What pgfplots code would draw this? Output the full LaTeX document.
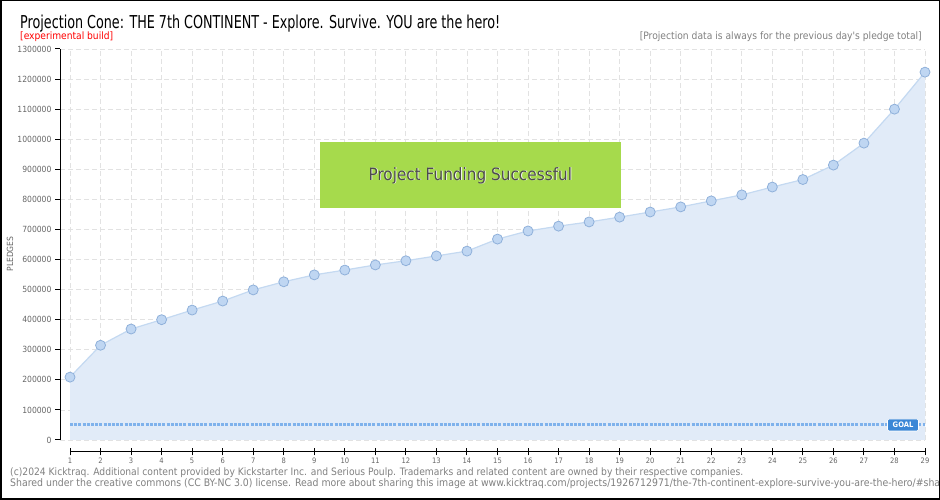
\documentclass[border=0pt]{standalone}
\usepackage{pgfplots}
\pgfplotsset{compat=1.18}
\usepackage{fontspec}
\setmainfont{DejaVu Sans}
\newfontfamily\condfont{DejaVu Sans Condensed}

\definecolor{areafill}{HTML}{E1EBF8}
\definecolor{lineblue}{HTML}{C4D9F1}
\definecolor{markfill}{HTML}{BFD6F2}
\definecolor{markedge}{HTML}{8FB0DA}
\definecolor{goalblue}{HTML}{7FB2EC}
\definecolor{goalbox}{HTML}{3B87D6}
\definecolor{okgreen}{HTML}{A6DA4C}
\definecolor{gridgray}{HTML}{E2E2E2}
\definecolor{ticktext}{HTML}{666666}

\pgfplotstableread{
day pledges
1 209000
2 315000
3 369000
4 400000
5 432000
6 462000
7 499000
8 526000
9 549000
10 565000
11 582000
12 596000
13 612000
14 628000
15 668000
16 695000
17 711000
18 725000
19 741000
20 758000
21 775000
22 795000
23 815000
24 841000
25 866000
26 914000
27 987000
28 1100000
29 1223000
}\pledgedata

\begin{document}
\begin{tikzpicture}[x=1pt,y=1pt]
\path[use as bounding box] (0,0) rectangle (940,500);

% main plot area: y axis and data
\begin{axis}[
    at={(60pt,60pt)}, anchor=south west,
    scale only axis, width=865pt, height=391pt,
    xmin=0.6725, xmax=29, ymin=0, ymax=1300000,
    axis y line=left, axis x line=bottom,
    axis line style={-, black, line width=1pt},
    x axis line style={draw=none},
    xtick={1,...,29}, xticklabels={}, xtick style={draw=none},
    ytick={0,100000,...,1300000},
    ytick style={black, line width=1pt},
    ytick align=outside, major tick length=5pt,
    scaled y ticks=false,
    /pgf/number format/fixed, /pgf/number format/precision=0,
    /pgf/number format/1000 sep={},
    /pgf/number format/assume math mode=true,
    y tick label style={font=\condfont\fontsize{8.5}{9}\selectfont, text=ticktext},
    grid=major,
    major grid style={gridgray, line width=0.8pt, dash pattern=on 5pt off 3pt},
    clip=false,
]
\addplot[fill=areafill, draw=none] table[x=day,y=pledges] {\pledgedata} \closedcycle;
\addplot[goalblue, line width=3pt, dash pattern=on 3pt off 1.2pt] coordinates {(1,50000) (29,50000)};
\addplot[lineblue, line width=1.2pt, mark=*, mark size=5pt,
    mark options={fill=markfill, draw=markedge, line width=0.8pt}]
    table[x=day,y=pledges] {\pledgedata};
\fill[okgreen] (axis cs:9.19,771000) rectangle (axis cs:19.04,990000);
\node[text=white, font=\condfont\fontsize{17}{18}\selectfont] at ([xshift=0.8pt,yshift=-0.8pt]axis cs:14.11,880000) {Project Funding Successful};
\node[text=black!70, font=\condfont\fontsize{17}{18}\selectfont] at (axis cs:14.11,880000) {Project Funding Successful};
\node[fill=goalbox, draw=white, line width=0.6pt, rounded corners=1.5pt, text=white,
    font=\condfont\bfseries\fontsize{7.5}{8}\selectfont, minimum width=31pt, minimum height=12pt, inner sep=1pt]
    at (axis cs:28.28,50000) {GOAL};
\end{axis}

% x axis drawn below the plot area
\begin{axis}[
    at={(70pt,48pt)}, anchor=south west,
    scale only axis, width=855pt, height=10pt,
    xmin=1, xmax=29, ymin=0, ymax=1,
    axis x line=bottom, axis y line=none,
    axis line style={-, black, line width=1pt},
    xtick={1,...,29},
    xtick style={black, line width=1pt},
    tick align=center, major tick length=7pt,
    /pgf/number format/assume math mode=true,
    x tick label style={font=\condfont\fontsize{7.5}{8}\selectfont, text=ticktext, yshift=1pt},
]
\end{axis}

% titles and notes
\node[anchor=base west, inner sep=0pt] at (20,471)
  {\resizebox{480pt}{13.5pt}{\condfont Projection Cone: THE 7th CONTINENT - Explore. Survive. YOU are the hero!}};
\node[anchor=base west, inner sep=0pt, text=red] at (20,460)
  {\resizebox{93pt}{!}{\condfont [experimental build]}};
\node[anchor=base east, inner sep=0pt, text=black!50] at (922,460)
  {\resizebox{282pt}{!}{\condfont [Projection data is always for the previous day's pledge total]}};
\node[rotate=90, text=ticktext, font=\condfont\fontsize{8.5}{9}\selectfont] at (10,246) {PLEDGES};

% footer
\begin{scope}
\clip (0,0) rectangle (939,500);
\node[anchor=base west, inner sep=0pt, text=black!50] at (10,24)
  {\resizebox{733pt}{!}{\condfont (c)2024 Kicktraq. Additional content provided by Kickstarter Inc. and Serious Poulp. Trademarks and related content are owned by their respective companies.}};
\node[anchor=base west, inner sep=0pt, text=black!50] at (10,13)
  {\resizebox{930pt}{!}{\condfont Shared under the creative commons (CC BY-NC 3.0) license. Read more about sharing this image at www.kicktraq.com/projects/1926712971/the-7th-continent-explore-survive-you-are-the-hero/\#sha}};
\end{scope}

\draw[black, line width=1.5pt] (0.75,0.75) rectangle (939.25,499.25);
\end{tikzpicture}
\end{document}
